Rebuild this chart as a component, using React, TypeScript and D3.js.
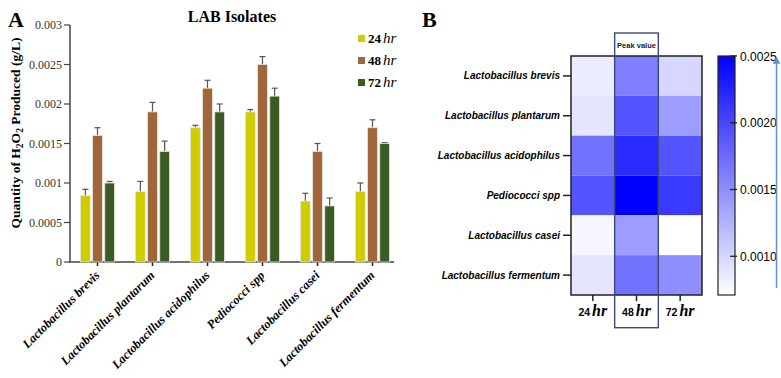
import React from "react";
import * as d3 from "d3";

const categories = [
  "Lactobacillus brevis",
  "Lactobacillus plantarum",
  "Lactobacillus acidophilus",
  "Pediococci spp",
  "Lactobacillus casei",
  "Lactobacillus fermentum",
];
const hours = ["24", "48", "72"];
const values24 = [0.00084, 0.00089, 0.0017, 0.0019, 0.00077, 0.00089];
const values48 = [0.0016, 0.0019, 0.0022, 0.0025, 0.0014, 0.0017];
const values72 = [0.001, 0.0014, 0.0019, 0.0021, 0.00071, 0.0015];
const err24 = [0.00008, 0.00013, 0.00003, 0.00003, 0.0001, 0.00011];
const err48 = [0.0001, 0.00012, 0.0001, 0.0001, 0.0001, 0.0001];
const err72 = [0.00002, 0.00013, 0.0001, 0.0001, 0.0001, 0.00001];
const yTicks = [0, 0.0005, 0.001, 0.0015, 0.002, 0.0025, 0.003];
const yTickLabels = ["0", "0.0005", "0.001", "0.0015", "0.002", "0.0025", "0.003"];
const cbTicks = [0.001, 0.0015, 0.002, 0.0025];
const cbTickLabels = ["0.0010", "0.0015", "0.0020", "0.0025"];
const seriesColors = ["#cfcc00", "#a0653a", "#3b5b24"];

const seriesValues = [values24, values48, values72];
const seriesErr = [err24, err48, err72];

const SERIF = "'Liberation Serif', 'Times New Roman', serif";
const SANS = "'Liberation Sans', Arial, sans-serif";

export default function App() {
  // Panel A scales
  const x0 = d3.scaleBand<string>().domain(categories).range([70, 400]).paddingInner(0.382).paddingOuter(0.191);
  const x1 = d3.scaleBand<string>().domain(hours).range([0, x0.bandwidth()]).paddingInner(0.2);
  const y = d3.scaleLinear().domain([0, 0.003]).range([262, 25]);

  // Panel B scales
  const allVals = [...values24, ...values48, ...values72];
  const vMin = d3.min(allVals) as number;
  const vMax = d3.max(allVals) as number;
  const xh = d3.scaleBand<string>().domain(hours).range([571, 702]);
  const yh = d3.scaleBand<string>().domain(categories).range([56, 295]);
  const color = d3.scaleLinear<string>().domain([vMin, vMax]).range(["#ffffff", "#0000ff"]);
  const cbY = d3.scaleLinear().domain([vMin, vMax]).range([295, 56]);

  return (
    <svg width={781} height={378} style={{ position: "absolute", left: 0, top: 0, display: "block" }}>
      <defs>
        <linearGradient id="cbGrad" x1="0" y1="1" x2="0" y2="0">
          <stop offset="0%" stopColor={color(vMin)} />
          <stop offset="100%" stopColor={color(vMax)} />
        </linearGradient>
        <marker id="arrowUp" viewBox="0 0 10 10" refX="5" refY="5" markerWidth="5" markerHeight="5" orient="auto">
          <path d="M0,0 L10,5 L0,10 z" fill="#5b8fe0" />
        </marker>
      </defs>

      {/* Panel A */}
      <text x={8} y={27} fontFamily={SERIF} fontWeight="bold" fontSize={22}>A</text>
      <text x={232} y={22} fontFamily={SERIF} fontWeight="bold" fontSize={16} textAnchor="middle">LAB Isolates</text>

      {/* y axis */}
      <line x1={70} x2={70} y1={y(0.003)} y2={y(0)} stroke="#444" strokeWidth={1.5} />
      {yTicks.map((t, i) => (
        <g key={i}>
          <line x1={64} x2={70} y1={y(t)} y2={y(t)} stroke="#444" strokeWidth={1.2} />
          <text x={62} y={y(t) + 4} textAnchor="end" fontFamily={SERIF} fontSize={12} fill="#333">{yTickLabels[i]}</text>
        </g>
      ))}
      <text transform={`translate(20,133) rotate(-90)`} textAnchor="middle" fontFamily={SERIF} fontWeight="bold" fontSize={13.5}>
        Quantity of H<tspan dy={3} fontSize={9.5}>2</tspan><tspan dy={-3}>O</tspan><tspan dy={3} fontSize={9.5}>2</tspan><tspan dy={-3}> Produced (g/L)</tspan>
      </text>

      {/* x axis */}
      <line x1={69} x2={394} y1={y(0)} y2={y(0)} stroke="#444" strokeWidth={1.5} />
      {categories.map((c) => {
        const cx = (x0(c) as number) + x0.bandwidth() / 2;
        return (
          <g key={c}>
            <line x1={cx} x2={cx} y1={y(0)} y2={y(0) + 4} stroke="#222" strokeWidth={1.5} />
            <text transform={`translate(${cx + 3},${y(0) + 14}) rotate(-45)`} textAnchor="end" fontFamily={SERIF} fontWeight="bold" fontStyle="italic" fontSize={12.5}>{c}</text>
          </g>
        );
      })}

      {/* bars */}
      {categories.map((c, ci) => (
        <g key={c} transform={`translate(${x0(c)},0)`}>
          {hours.map((h, si) => {
            const v = seriesValues[si][ci];
            const e = seriesErr[si][ci];
            const bx = x1(h) as number;
            const bw = x1.bandwidth();
            const mx = bx + bw / 2;
            return (
              <g key={h}>
                <line x1={mx} x2={mx} y1={y(v)} y2={y(v + e)} stroke="#555" strokeWidth={1.2} />
                <line x1={mx - 3} x2={mx + 3} y1={y(v + e)} y2={y(v + e)} stroke="#555" strokeWidth={1.2} />
                <rect x={bx} y={y(v)} width={bw} height={y(0) - y(v)} fill={seriesColors[si]} stroke="#e4e4dc" strokeWidth={0.8} />
              </g>
            );
          })}
        </g>
      ))}

      {/* legend */}
      {hours.map((h, i) => (
        <g key={h} transform={`translate(358,${35 + i * 22})`}>
          <rect x={0} y={0} width={7} height={7} fill={seriesColors[i]} />
          <text x={10} y={8} fontFamily={SERIF} fontSize={13}>
            <tspan fontWeight="bold">{h}</tspan>
            <tspan dx={2} fontStyle="italic" fontSize={15}>hr</tspan>
          </text>
        </g>
      ))}

      {/* Panel B */}
      <text x={422} y={27} fontFamily={SERIF} fontWeight="bold" fontSize={22}>B</text>

      {categories.map((c, ci) =>
        hours.map((h, si) => (
          <rect key={c + h} x={xh(h)} y={yh(c)} width={xh.bandwidth()} height={yh.bandwidth()} fill={color(seriesValues[si][ci])} />
        ))
      )}
      <rect x={571} y={56} width={131} height={239} fill="none" stroke="#222" strokeWidth={1.5} />

      {categories.map((c) => {
        const cy = (yh(c) as number) + yh.bandwidth() / 2;
        return (
          <g key={c}>
            <line x1={563} x2={571} y1={cy} y2={cy} stroke="#222" strokeWidth={1.5} />
            <text x={560} y={cy + 3.5} textAnchor="end" fontFamily={SANS} fontWeight="bold" fontStyle="italic" fontSize={10}>{c}</text>
          </g>
        );
      })}
      {hours.map((h) => {
        const cx = (xh(h) as number) + xh.bandwidth() / 2;
        return (
          <g key={h}>
            <line x1={cx} x2={cx} y1={295} y2={301} stroke="#222" strokeWidth={1.5} />
            <text x={cx} y={316} textAnchor="middle" fontFamily={SERIF}>
              <tspan fontFamily={SANS} fontSize={10.5} fontWeight="bold">{h}</tspan>
              <tspan dx={2} fontWeight="bold" fontStyle="italic" fontSize={16}>hr</tspan>
            </text>
          </g>
        );
      })}

      {/* Peak value box */}
      <rect x={xh("48")} y={33} width={xh.bandwidth()} height={294.7} fill="none" stroke="#3a4a78" strokeWidth={1.4} />
      <text x={(xh("48") as number) + xh.bandwidth() / 2} y={48} textAnchor="middle" fontFamily={SANS} fontSize={7.5} fontWeight="bold" fill="#222">Peak value</text>

      {/* colorbar */}
      <rect x={718} y={cbY(vMax)} width={17} height={cbY(vMin) - cbY(vMax)} fill="url(#cbGrad)" stroke="#222" strokeWidth={1.2} />
      {cbTicks.map((t, i) => (
        <g key={i}>
          <line x1={730} x2={737} y1={cbY(t)} y2={cbY(t)} stroke="#222" strokeWidth={1.3} />
          <text x={740} y={cbY(t) + 4.5} fontFamily={SANS} fontSize={12}>{cbTickLabels[i]}</text>
        </g>
      ))}

      {/* arrow */}
      <line x1={776.5} x2={776.5} y1={288} y2={60} stroke="#5b8fe0" strokeWidth={1.5} markerEnd="url(#arrowUp)" />
    </svg>
  );
}
